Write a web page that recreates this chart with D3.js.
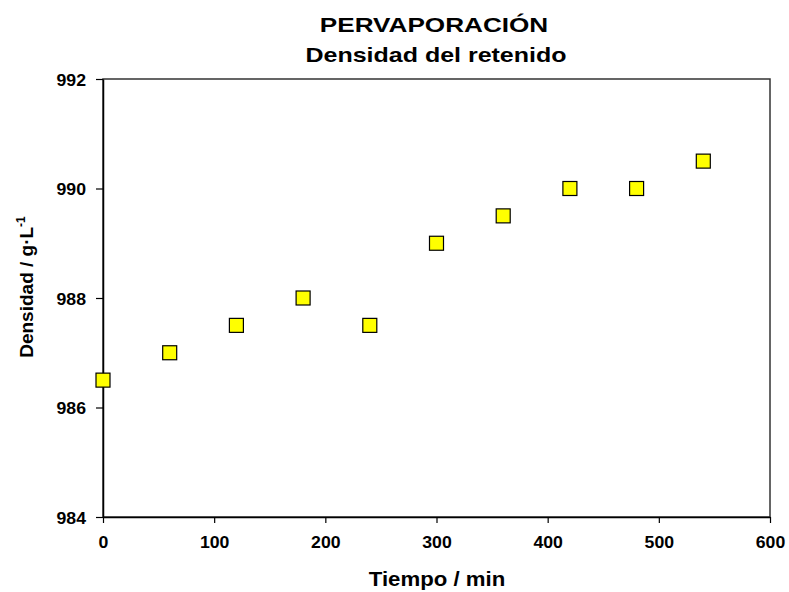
<!DOCTYPE html>
<html>
<head>
<meta charset="utf-8">
<script src="https://cdn.jsdelivr.net/npm/d3@7"></script>
<style>
  body { margin: 0; background: #fff; }
  text { font-family: "Liberation Sans", Arial, sans-serif; font-weight: bold; fill: #000; }
</style>
</head>
<body>
<div id="chart"></div>
<script>
// data
var tiempo = [0, 60, 120, 180, 240, 300, 360, 420, 480, 540];
var densidad = [986.5, 987, 987.5, 988, 987.5, 989, 989.5, 990, 990, 990.5];
var xTicks = [0, 100, 200, 300, 400, 500, 600];
var yTicks = [984, 986, 988, 990, 992];

var width = 789, height = 592;
var margin = {top: 79, right: 19, bottom: 75, left: 103};
var iw = width - margin.left - margin.right,
    ih = height - margin.top - margin.bottom;

var svg = d3.select("#chart").append("svg")
    .attr("width", width)
    .attr("height", height);

var x = d3.scaleLinear().domain([0, 600]).range([0, iw]);
var y = d3.scaleLinear().domain([984, 992]).range([ih, 0]);

var g = svg.append("g").attr("transform", "translate(" + margin.left + "," + margin.top + ")");

// frame
g.append("rect")
    .attr("width", iw).attr("height", ih)
    .attr("fill", "none").attr("stroke", "#333").attr("stroke-width", 1.5);

var sx = 1.04;

var xAxis = g.append("g")
    .attr("transform", "translate(0," + ih + ")")
    .call(d3.axisBottom(x).tickValues(xTicks).tickSize(6).tickPadding(0).tickSizeOuter(0));
xAxis.select(".domain").attr("stroke", "#000").attr("stroke-width", 1.5);
xAxis.selectAll(".tick line").attr("stroke", "#000").attr("stroke-width", 1.2);
xAxis.selectAll(".tick text")
    .attr("font-size", 17)
    .attr("y", 0).attr("dy", 0)
    .attr("transform", "translate(0,31) scale(" + sx + ",1)");

var yAxis = g.append("g")
    .call(d3.axisLeft(y).tickValues(yTicks).tickSize(7).tickPadding(0).tickSizeOuter(0));
yAxis.select(".domain").attr("stroke", "#000").attr("stroke-width", 1.5);
yAxis.selectAll(".tick line").attr("stroke", "#000").attr("stroke-width", 1.2);
yAxis.selectAll(".tick text")
    .attr("font-size", 17)
    .attr("x", -17 / sx).attr("dy", "0.36em")
    .attr("transform", "scale(" + sx + ",1)");

svg.selectAll(".tick text").style("font-family", "'Liberation Sans', Arial, sans-serif").style("font-weight", "bold");

// markers
var s = 14;
g.selectAll(".pt").data(tiempo).enter().append("rect")
    .attr("class", "pt")
    .attr("x", function(d) { return x(d) - s / 2; })
    .attr("y", function(d, i) { return y(densidad[i]) - s / 2; })
    .attr("width", s).attr("height", s)
    .attr("fill", "#ffff00")
    .attr("stroke", "#000").attr("stroke-width", 1.2);

// titles
function label(txt, px, py, size, scale) {
    return svg.append("text")
        .attr("text-anchor", "middle")
        .attr("font-size", size)
        .attr("transform", "translate(" + px + "," + py + ") scale(" + scale + ",1)")
        .text(txt);
}
var cx = margin.left + iw / 2;
label("PERVAPORACIÓN", 434, 32, 21, 1.245);
label("Densidad del retenido", 436, 62, 21, 1.19);
label("Tiempo / min", 437, 586, 20, 1.11);

var yl = svg.append("text")
    .attr("text-anchor", "middle")
    .attr("font-size", 19)
    .attr("transform", "translate(33,287) rotate(-90)");
yl.append("tspan").text("Densidad / g·L");
yl.append("tspan").attr("font-size", 12).attr("dy", -8).text("-1");
</script>
</body>
</html>
